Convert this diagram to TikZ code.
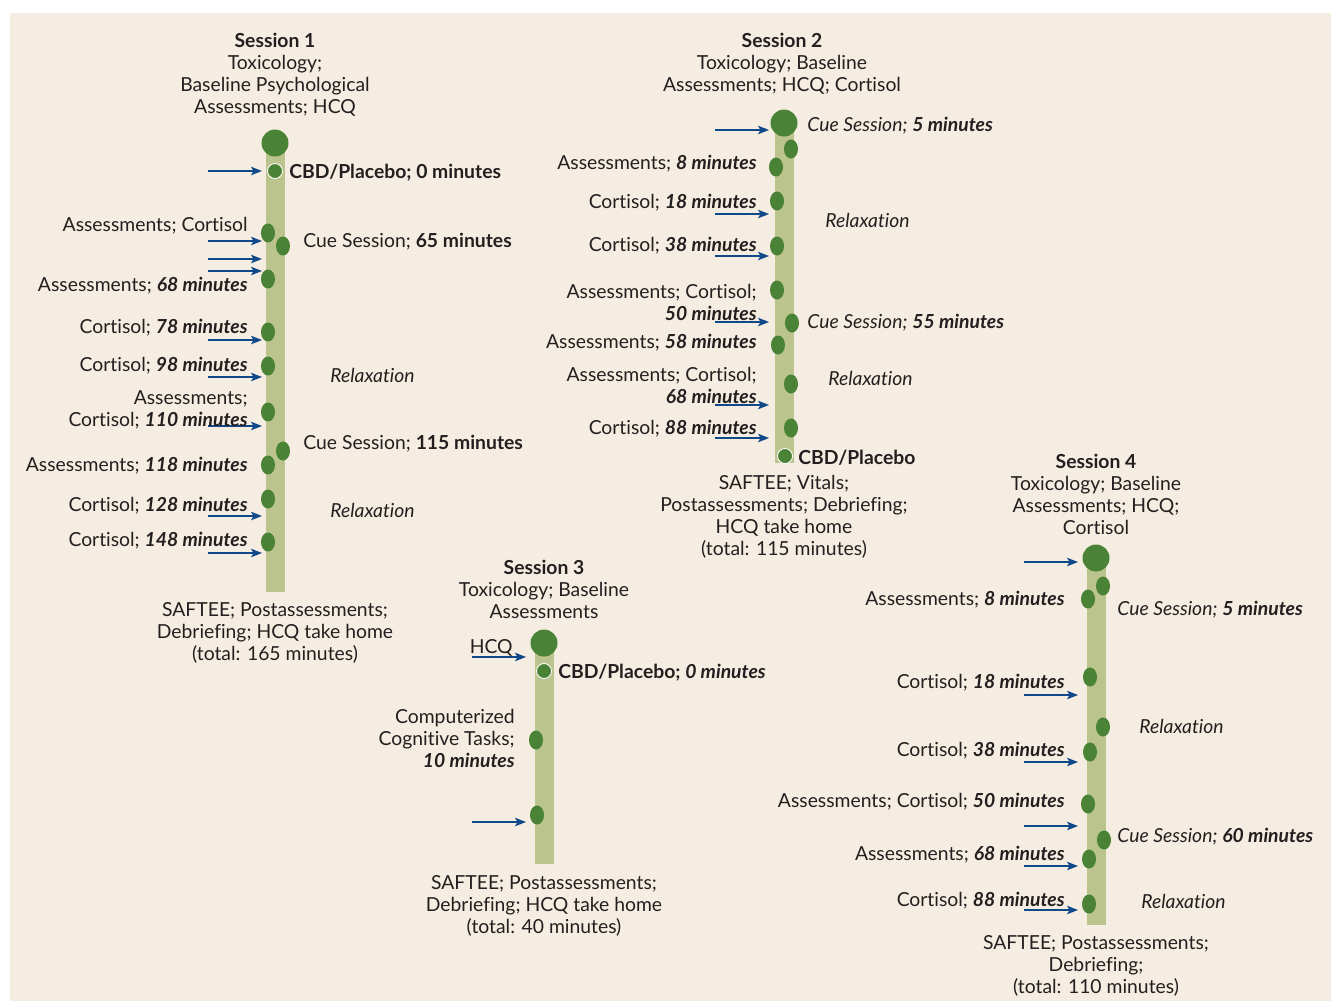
\documentclass[tikz,border=0pt]{standalone}
\usepackage{fontspec}
\setmainfont[Ligatures=NoCommon]{Lato}
\usetikzlibrary{arrows.meta}
\definecolor{bg}{HTML}{F5EDE1}
\definecolor{barc}{HTML}{BAC48C}
\definecolor{dotc}{HTML}{4A8236}
\definecolor{arrc}{HTML}{10498A}
\definecolor{txt}{HTML}{231F20}
\newcommand{\bi}[1]{\textbf{\textit{#1}}}

\begin{document}
\begin{tikzpicture}[x=0.02cm,y=-0.02cm,every node/.style={inner sep=0pt,text=txt,font=\fontsize{11}{12.55}\selectfont}]
\tikzstyle{bar}=[line width=0.38cm,draw=barc]
\tikzstyle{cbd}=[fill=dotc,draw=white,line width=0.5pt]
\tikzstyle{inarr}=[draw=arrc,line width=0.7pt,-{Stealth[length=0.22cm,width=0.17cm,inset=0.05cm]}]
\tikzstyle{lft}=[anchor=north east,align=right]
\tikzstyle{rgt}=[anchor=north west,align=left]
\tikzstyle{ctr}=[anchor=north,align=center]

\useasboundingbox (0,0) rectangle (1331,1001);
\fill[white] (0,0) rectangle (1331,1001);
\fill[bg] (10,13) rectangle (1331,1001);

% Session 1
\begin{scope}[shift={(275,0)}]
\draw[bar] (0,143) -- (0,592);
\fill[dotc] (0,143) circle (0.27cm);
\filldraw[cbd] (0,171) circle (0.15cm);
\foreach \y in {233,279,332,366,412,465,499,542}
  \fill[dotc] (-7,\y) ellipse (0.14cm and 0.19cm);
\foreach \y in {246,451}
  \fill[dotc] (8,\y) ellipse (0.14cm and 0.19cm);
\foreach \y in {171,241,259,271,340,377,426,516,553}
  \draw[inarr] (-67,\y) -- (-13,\y);

\node (s1head) [ctr] at (0,33) {\textbf{Session 1}\\Toxicology;\\Baseline Psychological\\Assessments; HCQ};
\node (s1cbd) [rgt] at (14,164) {\textbf{CBD/Placebo; 0 minutes}};
\node (s1a) [lft] at (-27,217) {Assessments; Cortisol};
\node (s1cue1) [rgt] at (28,233) {Cue Session; \textbf{65 minutes}};
\node (s1b) [lft] at (-27,277) {Assessments; \bi{68 minutes}};
\node (s1c) [lft] at (-27,319) {Cortisol; \bi{78 minutes}};
\node (s1d) [lft] at (-27,357) {Cortisol; \bi{98 minutes}};
\node (s1rel1) [rgt] at (55,368) {\textit{Relaxation}};
\node (s1e) [lft] at (-27,390) {Assessments;\\Cortisol; \bi{110 minutes}};
\node (s1cue2) [rgt] at (28,435) {Cue Session; \textbf{115 minutes}};
\node (s1f) [lft] at (-27,457) {Assessments; \bi{118 minutes}};
\node (s1g) [lft] at (-27,497) {Cortisol; \bi{128 minutes}};
\node (s1rel2) [rgt] at (55,503) {\textit{Relaxation}};
\node (s1h) [lft] at (-27,532) {Cortisol; \bi{148 minutes}};
\node (s1foot) [ctr] at (0,602) {SAFTEE; Postassessments;\\Debriefing; HCQ take home\\(total: 165 minutes)};
\end{scope}

% Session 2
\begin{scope}[shift={(784,0)}]
\draw[bar] (0,123) -- (0,463);
\fill[dotc] (0,123) circle (0.27cm);
\foreach \x/\y in {7/149,-8/167,-7/201,-7/246,-7/290,8/323,-6/345,7/384,7/428}
  \fill[dotc] (\x,\y) ellipse (0.14cm and 0.19cm);
\filldraw[cbd] (1,456) circle (0.15cm);
\foreach \y in {130,214,256,322,405,438}
  \draw[inarr] (-69,\y) -- (-15,\y);

\node (s2head) [ctr] at (-2,33) {\textbf{Session 2}\\Toxicology; Baseline\\Assessments; HCQ; Cortisol};
\node (s2cue1) [rgt] at (23,117) {\textit{Cue Session;} \bi{5 minutes}};
\node (s2a) [lft] at (-27,155) {Assessments; \bi{8 minutes}};
\node (s2b) [lft] at (-27,194) {Cortisol; \bi{18 minutes}};
\node (s2rel1) [rgt] at (41,213) {\textit{Relaxation}};
\node (s2c) [lft] at (-27,237) {Cortisol; \bi{38 minutes}};
\node (s2d) [lft] at (-27,284) {Assessments; Cortisol;\\\bi{50 minutes}};
\node (s2cue2) [rgt] at (23,314) {\textit{Cue Session;} \bi{55 minutes}};
\node (s2e) [lft] at (-27,334) {Assessments; \bi{58 minutes}};
\node (s2f) [lft] at (-27,367) {Assessments; Cortisol;\\\bi{68 minutes}};
\node (s2rel2) [rgt] at (44,371) {\textit{Relaxation}};
\node (s2g) [lft] at (-27,420) {Cortisol; \bi{88 minutes}};
\node (s2cbd) [rgt] at (14,450) {\textbf{CBD/Placebo}};
\node (s2foot) [ctr] at (0,475) {SAFTEE; Vitals;\\Postassessments; Debriefing;\\HCQ take home\\(total: 115 minutes)};
\end{scope}

% Session 3
\begin{scope}[shift={(544,0)}]
\draw[bar] (0,643) -- (0,864);
\fill[dotc] (0,643) circle (0.27cm);
\filldraw[cbd] (0,671) circle (0.15cm);
\foreach \x/\y in {-8/740,-7/815}
  \fill[dotc] (\x,\y) ellipse (0.14cm and 0.19cm);
\foreach \y in {657,822}
  \draw[inarr] (-72,\y) -- (-18,\y);

\node (s3head) [ctr] at (0,560) {\textbf{Session 3}\\Toxicology; Baseline\\Assessments};
\node (s3hcq) [lft] at (-31,639) {HCQ};
\node (s3cbd) [rgt] at (14,664) {\textbf{CBD/Placebo; \textit{0 minutes}}};
\node (s3a) [lft] at (-29,709) {Computerized\\Cognitive Tasks;\\\bi{10 minutes}};
\node (s3foot) [ctr] at (0,875) {SAFTEE; Postassessments;\\Debriefing; HCQ take home\\(total: 40 minutes)};
\end{scope}

% Session 4
\begin{scope}[shift={(1096,0)}]
\draw[bar] (0,558) -- (0,925);
\fill[dotc] (0,558) circle (0.27cm);
\foreach \x/\y in {7/586,-8/599,-6/677,7/727,-6/752,-8/804,8/840,-7/859,-7/904}
  \fill[dotc] (\x,\y) ellipse (0.14cm and 0.19cm);
\foreach \y in {562,695,762,826,866,910}
  \draw[inarr] (-72,\y) -- (-18,\y);

\node (s4head) [ctr] at (0,454) {\textbf{Session 4}\\Toxicology; Baseline\\Assessments; HCQ;\\Cortisol};
\node (s4a) [lft] at (-31,591) {Assessments; \bi{8 minutes}};
\node (s4cue1) [rgt] at (21,601) {\textit{Cue Session;} \bi{5 minutes}};
\node (s4b) [lft] at (-31,674) {Cortisol; \bi{18 minutes}};
\node (s4rel1) [rgt] at (43,719) {\textit{Relaxation}};
\node (s4c) [lft] at (-31,742) {Cortisol; \bi{38 minutes}};
\node (s4d) [lft] at (-31,793) {Assessments; Cortisol; \bi{50 minutes}};
\node (s4cue2) [rgt] at (21,828) {\textit{Cue Session;} \bi{60 minutes}};
\node (s4e) [lft] at (-31,846) {Assessments; \bi{68 minutes}};
\node (s4f) [lft] at (-31,892) {Cortisol; \bi{88 minutes}};
\node (s4rel2) [rgt] at (45,894) {\textit{Relaxation}};
\node (s4foot) [ctr] at (0,935) {SAFTEE; Postassessments;\\Debriefing;\\(total: 110 minutes)};
\end{scope}
\end{tikzpicture}
\end{document}
